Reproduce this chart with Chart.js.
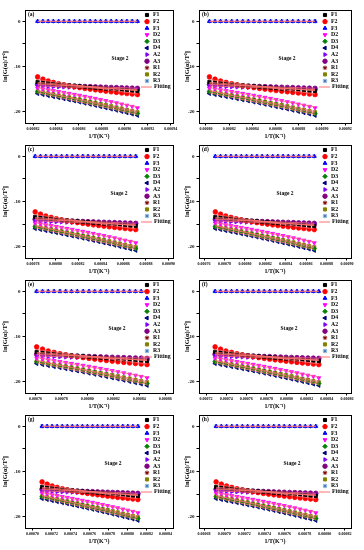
<!DOCTYPE html>
<html>
<head>
<meta charset="utf-8">
<script src="https://cdn.jsdelivr.net/npm/chart.js"></script>
<style>
  html, body { margin: 0; padding: 0; background: #fff; }
  body { width: 364px; height: 550px; position: relative; overflow: hidden; }
  canvas { position: absolute; }
</style>
</head>
<body>
<canvas id="pa" width="182" height="145" style="left:0;top:0"></canvas>
<canvas id="pb" width="182" height="145" style="left:182px;top:0"></canvas>
<canvas id="pc" width="182" height="145" style="left:0;top:135px"></canvas>
<canvas id="pd" width="182" height="145" style="left:182px;top:135px"></canvas>
<canvas id="pe" width="182" height="145" style="left:0;top:270px"></canvas>
<canvas id="pf" width="182" height="145" style="left:182px;top:270px"></canvas>
<canvas id="pg" width="182" height="145" style="left:0;top:405px"></canvas>
<canvas id="ph" width="182" height="145" style="left:182px;top:405px"></canvas>
<script>
// 1/T values, in units of 1e-6 K^-1, one list per panel
const xA = [824.0, 828.6, 833.2, 837.7, 842.3, 846.9, 851.5, 856.1, 860.6, 865.2, 869.8, 874.4, 878.9, 883.5, 888.1, 892.7, 897.3, 901.8, 906.4, 911.0];
const xB = [803.0, 807.8, 812.6, 817.4, 822.2, 826.9, 831.7, 836.5, 841.3, 846.1, 850.9, 855.7, 860.5, 865.3, 870.1, 874.8, 879.6, 884.4, 889.2, 894.0];
const xC = [782.0, 786.7, 791.4, 796.1, 800.7, 805.4, 810.1, 814.8, 819.5, 824.2, 828.8, 833.5, 838.2, 842.9, 847.6, 852.3, 856.9, 861.6, 866.3, 871.0];
const xD = [771.0, 776.1, 781.2, 786.3, 791.4, 796.5, 801.6, 806.7, 811.8, 816.9, 822.1, 827.2, 832.3, 837.4, 842.5, 847.6, 852.7, 857.8, 862.9, 868.0];
const xE = [761.0, 765.5, 769.9, 774.4, 778.9, 783.4, 787.8, 792.3, 796.8, 801.3, 805.7, 810.2, 814.7, 819.2, 823.6, 828.1, 832.6, 837.1, 841.5, 846.0];
const xF = [729.0, 734.4, 739.8, 745.3, 750.7, 756.1, 761.5, 766.9, 772.4, 777.8, 783.2, 788.6, 794.1, 799.5, 804.9, 810.3, 815.7, 821.2, 826.6, 832.0];
const xG = [710.0, 715.3, 720.6, 725.9, 731.3, 736.6, 741.9, 747.2, 752.5, 757.8, 763.2, 768.5, 773.8, 779.1, 784.4, 789.7, 795.1, 800.4, 805.7, 811.0];
const xH = [692.0, 697.2, 702.4, 707.6, 712.8, 718.1, 723.3, 728.5, 733.7, 738.9, 744.1, 749.3, 754.5, 759.7, 765.0, 770.2, 775.4, 780.6, 785.8, 791.0];

// x tick labels per panel (1e-6 K^-1)
const ticksA = [820, 840, 860, 880, 900, 920, 940];
const ticksB = [800, 820, 840, 860, 880, 900, 920];
const ticksC = [780, 800, 820, 840, 860, 880, 900];
const ticksD = [760, 780, 800, 820, 840, 860, 880, 900];
const ticksE = [760, 780, 800, 820, 840, 860];
const ticksF = [720, 740, 760, 780, 800, 820, 840, 860];
const ticksG = [700, 720, 740, 760, 780, 800, 820, 840];
const ticksH = [680, 700, 720, 740, 760, 780, 800, 820];
const yTicks = [-20, -15, -10, -5, 0];

// ln[G(a)/T^2] for each kinetic model
const seriesNames = ['F1', 'F2', 'F3', 'D2', 'D3', 'D4', 'A2', 'A3', 'R1', 'R2', 'R3'];
const yF1 = [-13.40, -13.55, -13.69, -13.82, -13.95, -14.07, -14.18, -14.29, -14.40, -14.50, -14.60, -14.70, -14.80, -14.89, -14.98, -15.07, -15.16, -15.25, -15.33, -15.42];
const yF2 = [-12.30, -12.80, -13.20, -13.52, -13.80, -14.05, -14.28, -14.48, -14.67, -14.85, -15.01, -15.17, -15.32, -15.46, -15.60, -15.73, -15.86, -15.98, -16.10, -16.22];
const yF3 = [0, 0, 0, 0, 0, 0, 0, 0, 0, 0, 0, 0, 0, 0, 0, 0, 0, 0, 0, 0];
const yD2 = [-14.80, -14.98, -15.17, -15.36, -15.56, -15.76, -15.97, -16.18, -16.40, -16.62, -16.85, -17.08, -17.32, -17.56, -17.81, -18.06, -18.32, -18.58, -18.85, -19.15];
const yD3 = [-15.60, -15.82, -16.05, -16.28, -16.51, -16.75, -16.99, -17.23, -17.48, -17.73, -17.98, -18.24, -18.50, -18.76, -19.03, -19.30, -19.57, -19.85, -20.13, -20.42];
const yD4 = [-16.00, -16.22, -16.45, -16.68, -16.91, -17.15, -17.39, -17.63, -17.88, -18.13, -18.38, -18.64, -18.90, -19.16, -19.43, -19.70, -19.97, -20.25, -20.53, -20.82];
const yA2 = [-14.30, -14.36, -14.41, -14.46, -14.51, -14.56, -14.61, -14.65, -14.70, -14.74, -14.78, -14.82, -14.86, -14.90, -14.94, -14.98, -15.02, -15.06, -15.10, -15.14];
const yA3 = [-13.95, -14.02, -14.08, -14.13, -14.18, -14.23, -14.28, -14.33, -14.38, -14.42, -14.46, -14.51, -14.55, -14.59, -14.63, -14.67, -14.71, -14.75, -14.79, -14.83];
const yR1 = [-13.75, -13.85, -13.94, -14.03, -14.12, -14.20, -14.28, -14.36, -14.44, -14.52, -14.60, -14.68, -14.76, -14.84, -14.92, -15.00, -15.07, -15.14, -15.21, -15.28];
const yR2 = [-15.50, -15.71, -15.93, -16.15, -16.37, -16.60, -16.83, -17.06, -17.30, -17.54, -17.78, -18.03, -18.28, -18.53, -18.79, -19.05, -19.31, -19.58, -19.85, -20.12];
const yR3 = [0, 0, 0, 0, 0, 0, 0, 0, 0, 0, 0, 0, 0, 0, 0, 0, 0, 0, 0, 0];

// fitted line values at first and last point, same order as seriesNames
const fitStart = [-13.50, -12.90, 0, -14.65, -15.40, -15.80, -14.30, -13.97, -13.78, -15.30, 0];
const fitEnd   = [-15.35, -16.05, 0, -18.95, -20.25, -20.60, -15.12, -14.83, -15.27, -19.95, 0];

const seriesY = [yF1, yF2, yF3, yD2, yD3, yD4, yA2, yA3, yR1, yR2, yR3];
const colors = ['#000000', '#ff0000', '#0000ff', '#ff00ff', '#008000', '#000080', '#8000ff', '#800080', '#800000', '#808000', '#3f7fbf'];
const styles = ['rect', 'circle', 'triangle', 'triangle', 'rectRot', 'triangle', 'triangle', 'circle', 'star', 'rect', 'star'];
const rotations = [0, 0, 0, 180, 0, 270, 90, 0, 0, 0, 0];
const fitColor = '#ff6f6f';
const FONT = '"Liberation Serif", "Times New Roman", serif';

const W = 182, H = 145, TOP = 10, BOTTOM = 123;

const panels = [
  { id: 'pa', letter: '(a)', xs: xA, ticks: ticksA, min: 813, max: 942, left: 25, right: 173, stageX: 95 },
  { id: 'pb', letter: '(b)', xs: xB, ticks: ticksB, min: 794, max: 925, left: 17, right: 169, stageX: 88 },
  { id: 'pc', letter: '(c)', xs: xC, ticks: ticksC, min: 773, max: 904, left: 25, right: 173, stageX: 94 },
  { id: 'pd', letter: '(d)', xs: xD, ticks: ticksD, min: 755, max: 904, left: 17, right: 169, stageX: 86 },
  { id: 'pe', letter: '(e)', xs: xE, ticks: ticksE, min: 752, max: 866, left: 25, right: 173, stageX: 92 },
  { id: 'pf', letter: '(f)', xs: xF, ticks: ticksF, min: 713, max: 864, left: 17, right: 169, stageX: 90 },
  { id: 'pg', letter: '(g)', xs: xG, ticks: ticksG, min: 692, max: 848, left: 25, right: 173, stageX: 88 },
  { id: 'ph', letter: '(h)', xs: xH, ticks: ticksH, min: 675, max: 826, left: 17, right: 169, stageX: 93 }
];

// frame, panel letter, "Stage 2" and legend inside the plot area
const decorPlugin = {
  id: 'decor',
  afterDraw(chart, args, opts) {
    const { ctx, chartArea: a } = chart;
    ctx.save();
    ctx.strokeStyle = '#000';
    ctx.lineWidth = 1;
    ctx.strokeRect(Math.round(a.left) + 0.5, Math.round(a.top) + 0.5,
      Math.round(a.right - a.left), Math.round(a.bottom - a.top));

    ctx.fillStyle = '#000';
    ctx.font = 'bold 5.5px ' + FONT;
    ctx.textBaseline = 'middle';
    ctx.textAlign = 'left';
    ctx.fillText(opts.letter, a.left + 3, a.top + 5);
    ctx.textAlign = 'center';
    ctx.fillText('Stage 2', a.left + opts.stageX, a.top + 49);

    const lx = a.right - 26;
    let ly = a.top + 5;
    ctx.textAlign = 'left';
    ctx.font = 'bold 5.8px ' + FONT;
    seriesNames.forEach((name, i) => {
      ctx.fillStyle = colors[i];
      ctx.strokeStyle = colors[i];
      ctx.lineWidth = 1;
      Chart.helpers.drawPoint(ctx, { pointStyle: styles[i], rotation: rotations[i], radius: 2.2, borderWidth: 1 }, lx, ly);
      ctx.fillStyle = '#000';
      ctx.fillText(name, lx + 6, ly);
      ly += 6.6;
    });
    ly -= 0.6;
    ctx.strokeStyle = fitColor;
    ctx.lineWidth = 1;
    ctx.beginPath();
    ctx.moveTo(lx - 6, ly);
    ctx.lineTo(lx + 5, ly);
    ctx.stroke();
    ctx.fillStyle = '#000';
    ctx.fillText('Fitting', lx + 7, ly);
    ctx.restore();
  }
};

function makePanel(p) {
  const last = p.xs.length - 1;
  const fits = seriesNames.map((name, i) => ({
    label: name + ' fit',
    type: 'line',
    data: [{ x: p.xs[0], y: fitStart[i] }, { x: p.xs[last], y: fitEnd[i] }],
    borderColor: fitColor,
    borderWidth: 0.8,
    pointRadius: 0,
    fill: false
  }));
  const points = seriesNames.map((name, i) => ({
    label: name,
    data: p.xs.map((x, j) => ({ x: x, y: seriesY[i][j] })),
    pointStyle: styles[i],
    rotation: rotations[i],
    pointRadius: 2.3,
    pointBorderWidth: 0.8,
    backgroundColor: colors[i],
    borderColor: colors[i],
    showLine: false
  }));

  new Chart(document.getElementById(p.id).getContext('2d'), {
    type: 'scatter',
    data: { datasets: fits.concat(points) },
    options: {
      responsive: false,
      animation: false,
      devicePixelRatio: 1,
      layout: { padding: { top: TOP, right: W - p.right, left: 0, bottom: 0 } },
      plugins: {
        legend: { display: false },
        tooltip: { enabled: false },
        decor: { letter: p.letter, stageX: p.stageX }
      },
      scales: {
        x: {
          type: 'linear',
          min: p.min,
          max: p.max,
          afterBuildTicks: s => { s.ticks = p.ticks.map(v => ({ value: v })); },
          afterFit: s => { s.height = H - BOTTOM; },
          ticks: {
            autoSkip: false, maxRotation: 0, minRotation: 0,
            color: '#000', padding: 1.5,
            font: { family: FONT, size: 4, weight: 'bold' },
            callback: v => (v * 1e-6).toFixed(5)
          },
          grid: { drawOnChartArea: false, tickLength: 2.5, color: '#000' },
          border: { color: '#000' },
          title: {
            display: true, text: '1/T(K⁻¹)', color: '#000',
            font: { family: FONT, size: 6, weight: 'bold' },
            padding: { top: 0, bottom: 4.5 }
          }
        },
        y: {
          min: -22.5,
          max: 2.5,
          afterBuildTicks: s => { s.ticks = yTicks.map(v => ({ value: v })); },
          afterFit: s => { s.width = p.left; },
          ticks: {
            color: '#000', padding: 2,
            font: { family: FONT, size: 5, weight: 'bold' },
            callback: v => (v % 10 === 0 ? String(v) : '')
          },
          grid: { drawOnChartArea: false, tickLength: 2.5, color: '#000' },
          border: { color: '#000' },
          title: {
            display: true, text: 'ln[G(α)/T²]', color: '#000',
            font: { family: FONT, size: 6.5, weight: 'bold' },
            padding: { top: 1.5, bottom: 0 }
          }
        }
      }
    },
    plugins: [decorPlugin]
  });
}

panels.forEach(makePanel);
</script>
</body>
</html>
